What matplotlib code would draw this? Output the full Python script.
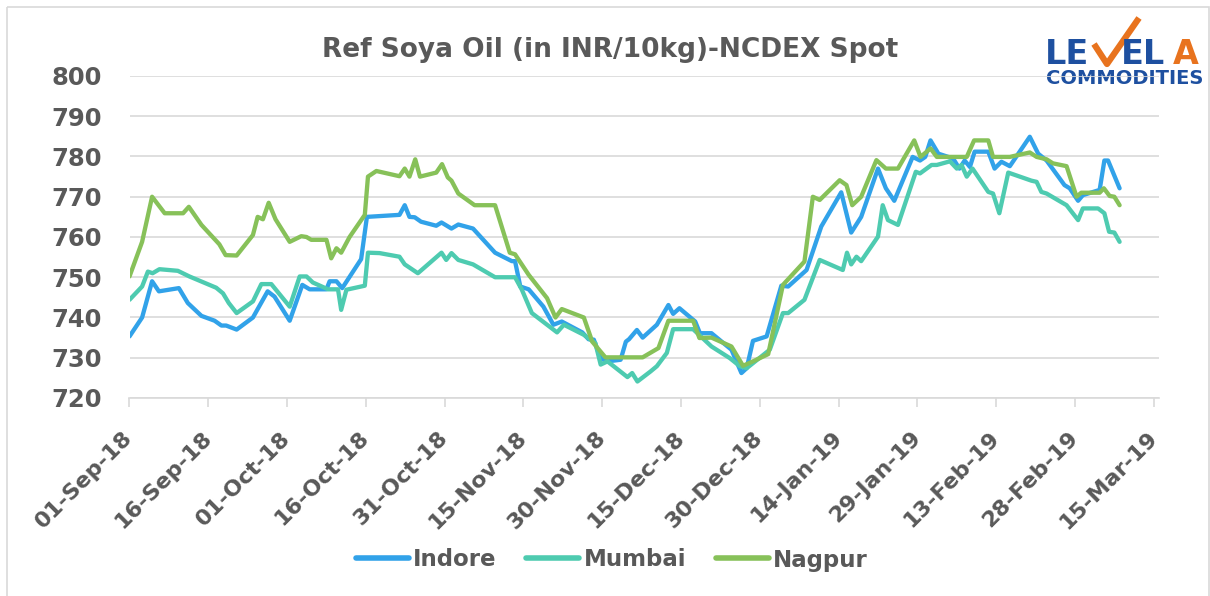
import numpy as np
import pandas as pd
import matplotlib
matplotlib.use('Agg')
import matplotlib.pyplot as plt
from matplotlib.patches import Rectangle

start = pd.Timestamp('2018-09-01')

# days after 01-Sep-18
indore_days = [0, 2.4, 4.3, 5.6, 9.4, 11.1, 13.7, 16.2, 17.5, 18.4, 20.4, 23.5, 26.3, 27.6, 30.5,
               32.9, 34.3, 37.5, 38.1, 39.4, 40.5, 44.1, 45.2, 51.4, 52.4, 53.3, 54.3, 55.5, 58.4,
               59.4, 61.3, 62.6, 65.4, 69.6, 72.8, 73.4, 74.4, 76, 78.8, 80.7, 82.3, 86.2, 87.4,
               88.4, 89.7, 91, 93.5, 94.5, 95.1, 96.6, 97.7, 100.4, 102.6, 103.5, 104.7, 107.7,
               108.6, 110.8, 114.6, 116.5, 117.5, 118.7, 121.3, 124.1, 125.4, 128.9, 131.7, 135.5,
               137.4, 139.3, 142.5, 144, 145.6, 149.1, 150.5, 151.5, 152.5, 154, 156.8, 158, 159,
               160, 160.9, 163.5, 164.7, 166, 167.6, 171.4, 173, 174.6, 178, 179, 180.6, 181.5,
               184.7, 185.6, 186.3, 188.5]
indore_vals = [735.3, 740, 749, 746.5, 747.3, 743.6, 740.4, 739.2, 738, 738, 737, 740, 746.5, 745.2, 739.2,
               748.1, 747, 747, 749, 749, 747.3, 754.5, 765, 765.5, 767.9, 765, 764.9, 763.8, 762.8,
               763.6, 762.1, 763.1, 762.1, 756.1, 754, 754, 747.7, 747, 742.7, 738.2, 739, 736.3, 734.6,
               734.5, 729.8, 729.1, 729.5, 734, 734.6, 736.9, 735, 738.2, 743.1, 740.9, 742.3, 739,
               736.1, 736.1, 732, 726.2, 727.4, 734.2, 735.3, 747.9, 747.7, 751.8, 762.6, 771.1,
               761.1, 765, 777, 772.1, 769, 779.9, 779, 779.9, 784, 780.7, 779.5, 777, 779,
               777.4, 781.2, 781.2, 777, 778.7, 777.6, 784.9, 780.7, 779, 772.9, 772.1, 769, 770.4,
               771.7, 779, 779, 772.1]

mumbai_days = [0, 2.4, 3.5, 4.4, 5.7, 9.2, 11.4, 16.5, 17.8, 18.9, 20.4, 23.5, 25.1, 27, 30.5, 32.4,
               33.7, 34.9, 37.8, 39.7, 40.3, 41.3, 44.8, 45.4, 47.6, 51.4, 52.4, 54.9, 59.4, 60.3,
               61.3, 62.6, 65.4, 69.6, 73.4, 74.7, 76.6, 81.4, 82.7, 86.5, 88.7, 89.7, 91, 94.8,
               95.7, 96.7, 99.2, 100.4, 102.3, 103.5, 107.3, 110.8, 114.3, 116.2, 117.5, 121.9,
               124.4, 125.4, 128.5, 131.4, 135.8, 136.6, 137.4, 138.4, 139.3, 142.5, 143.4, 144.4,
               146.3, 149.7, 150.5, 152.7, 153.7, 156.2, 157.5, 158.4, 159.4, 160.5, 163.5, 164.4,
               165.6, 167.3, 171.7, 172.7, 173.6, 174.6, 178.4, 180.6, 181.5, 184.4, 185.6, 186.5,
               187.5, 188.5]
mumbai_vals = [744.4, 747.7, 751.4, 751, 752, 751.6, 750.2, 747.4, 746, 743.6, 741.1, 744, 748.3, 748.3,
               742.7, 750.2, 750.2, 748.7, 747, 747, 741.9, 746.9, 747.9, 756.1, 756, 755.1, 753.2,
               751, 756.1, 754.3, 756, 754.3, 753.2, 750, 750, 746.9, 741.1, 736.3, 738.2, 735.7,
               733.6, 728.3, 729.1, 725.2, 726.2, 724.1, 726.6, 727.9, 731.2, 737.1, 737.1, 732.8,
               729.9, 727.9, 727.4, 732, 741.1, 741.1, 744.4, 754.3, 751.8, 756.1, 753.2, 755.1,
               754, 760.1, 767.9, 764.2, 763, 776.2, 775.8, 777.9, 777.9, 778.8, 777, 777.9, 775,
               777, 771.2, 770.8, 765.9, 776, 774, 773.7, 771.2, 770.8, 767.9, 764.2, 767.1, 767.1,
               765.9, 761.3, 761.1, 758.8]

nagpur_days = [0, 2.4, 4.3, 6.7, 10.2, 11.3, 13.7, 17.1, 18.3, 20.4, 23.5, 24.4, 25.4, 26.5, 27.8,
               30.5, 32.7, 33.7, 34.6, 37.5, 38.4, 39.4, 40.3, 41.9, 44.8, 45.4, 47, 51.4, 52.4,
               53.3, 54.4, 55.3, 58.4, 59.5, 60.6, 61.3, 62.6, 65.7, 69.6, 72.4, 73.4, 76, 79.5,
               81.1, 82.3, 86.5, 88.1, 90.6, 97.7, 100.7, 102.6, 107.3, 108.5, 110.8, 114.6, 116.8,
               118.7, 121.6, 124.4, 128.5, 130.1, 131.4, 135.2, 136.5, 137.6, 139.3, 142.2, 144,
               146.3, 149.4, 150.6, 152.5, 153.7, 159.4, 160.8, 163.5, 164.4, 167.6, 171.4, 172.7,
               174.6, 175.8, 178.4, 180.3, 181.2, 184.7, 185.5, 186.6, 187.5, 188.5]
nagpur_vals = [750.2, 758.8, 770, 765.9, 765.9, 767.5, 763, 758.2, 755.5, 755.4, 760.5, 765, 764.4, 768.5,
               764.4, 758.8, 760.2, 760, 759.3, 759.3, 754.7, 757.2, 756.1, 760, 765.5, 775, 776.4,
               775.1, 777, 775, 779.3, 775, 776, 778.1, 774.8, 774, 770.8, 767.9, 767.9, 756.1, 755.7,
               750.6, 744.8, 740, 742.1, 740, 734, 730.1, 730.1, 732.4, 739.2, 739.2, 734.9, 735,
               732.8, 728, 729.1, 730.9, 748.1, 753.9, 770, 769.2, 774.1, 772.9, 767.9, 770, 779.1,
               777, 777, 784, 779.9, 782, 779.9, 779.9, 784, 784, 779.9, 779.9, 781, 779.9, 779.3,
               778.3, 777.6, 770, 771, 771, 772.1, 770.2, 770, 767.9]

names = ['Indore', 'Mumbai', 'Nagpur']
colors = ['#31A2E9', '#4ECBB0', '#87C159']
title = 'Ref Soya Oil (in INR/10kg)-NCDEX Spot'
grey = '#595959'
font = 'DejaVu Sans'

fig = plt.figure(figsize=(12.1, 5.96), dpi=100)
W, H = 1210, 596

# frame and logo layer
ov = fig.add_axes([0, 0, 1, 1])
ov.set_xlim(0, W)
ov.set_ylim(H, 0)
ov.axis('off')
ov.add_patch(Rectangle((7, 7), 1202, 600, fill=False, edgecolor='#D9D9D9', lw=1.2))

ax = fig.add_axes([129.5 / W, 1 - 398 / H, (1159 - 129.5) / W, (398 - 76) / H])
for name, d, v, c in zip(names, [indore_days, mumbai_days, nagpur_days],
                         [indore_vals, mumbai_vals, nagpur_vals], colors):
    dates = start + pd.to_timedelta(np.array(d), unit='D')
    ax.plot(dates, v, color=c, lw=3.1, label=name,
            solid_joinstyle='round', solid_capstyle='round', zorder=3)

ticks = [start + pd.Timedelta(days=15 * k) for k in range(14)]
ax.set_xlim(start, start + pd.Timedelta(days=196))
ax.set_ylim(720, 800)
ax.set_yticks(range(720, 801, 10))
ax.set_xticks(ticks)
ax.set_xticklabels([t.strftime('%d-%b-%y') for t in ticks], rotation=45, ha='right',
                   va='center', rotation_mode='anchor')
for lab in ax.get_xticklabels():
    lab.set_fontfamily(font)
    lab.set_fontweight('bold')
    lab.set_fontsize(16)
    lab.set_color(grey)
for lab in ax.get_yticklabels():
    lab.set_fontfamily(font)
    lab.set_fontweight('bold')
    lab.set_fontsize(17.5)
    lab.set_color(grey)

ax.grid(axis='y', color='#D9D9D9', lw=1.2)
ax.set_axisbelow(True)
for s in ['top', 'right', 'left']:
    ax.spines[s].set_visible(False)
ax.spines['bottom'].set_color('#D9D9D9')
ax.spines['bottom'].set_linewidth(1.2)
ax.tick_params(axis='x', direction='out', length=6.5, width=1.2, color='#D9D9D9', pad=20)
ax.tick_params(axis='y', length=0, pad=20)
ax.set_facecolor('none')

fig.text(610 / W, 1 - 50 / H, title, ha='center', va='center', fontsize=19,
         fontfamily=font, fontweight='bold', color=grey)

leg = fig.legend(loc='center', bbox_to_anchor=(612 / W, 1 - 560 / H), ncol=3, frameon=False,
                 handlelength=2.3, handletextpad=0.2, columnspacing=1.3,
                 prop={'family': font, 'weight': 'bold', 'size': 16.5})
for t in leg.get_texts():
    t.set_color(grey)
for h in leg.legend_handles:
    h.set_linewidth(4)

# logo
blue = '#1E50A0'
orange = '#E8731E'
ov.text(1045, 64, 'LE', fontsize=24, fontweight='bold', color=blue, ha='left', va='baseline')
ov.plot([1094, 1107, 1139], [44, 64, 18], color=orange, lw=4.5, solid_capstyle='butt')
ov.text(1121, 64, 'EL', fontsize=24, fontweight='bold', color=blue, ha='left', va='baseline')
ov.text(1173, 64, 'A', fontsize=24, fontweight='bold', color=orange, ha='left', va='baseline')
ov.text(1125, 84, 'COMMODITIES', fontsize=14, fontweight='bold', color=blue, ha='center',
        va='baseline')

fig.savefig('out.png', dpi=100, facecolor='white')
